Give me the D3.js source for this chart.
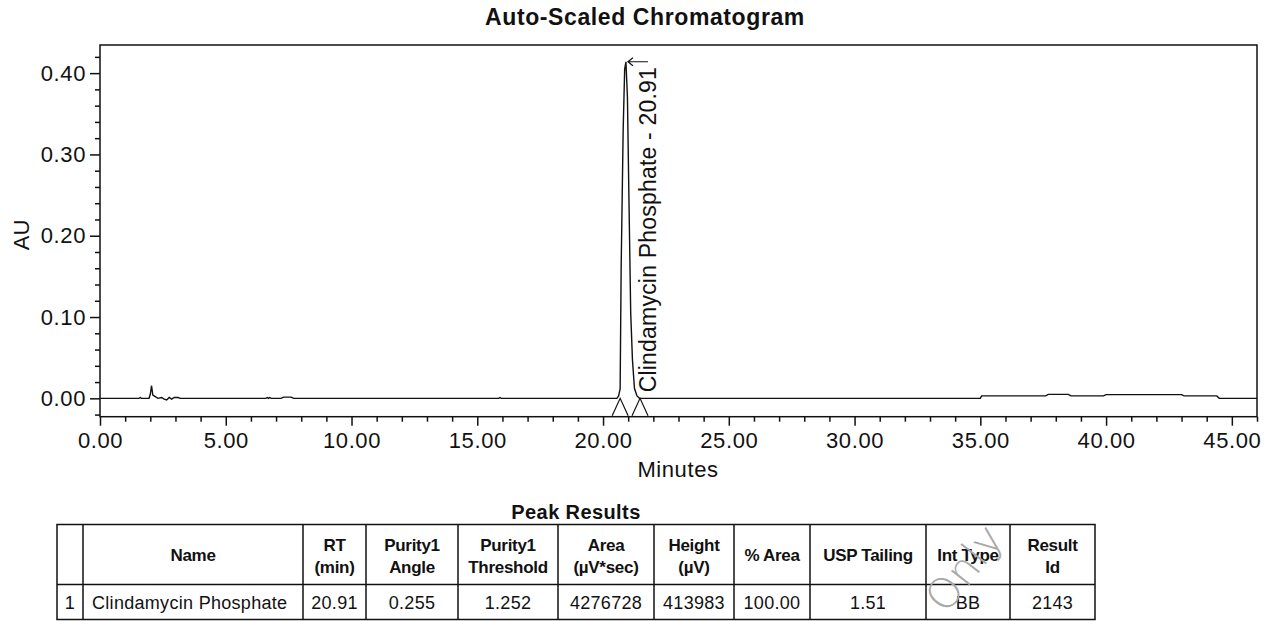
<!DOCTYPE html>
<html lang="en">
<head>
<meta charset="UTF-8">
<title>Auto-Scaled Chromatogram</title>
<script src="https://cdn.jsdelivr.net/npm/d3@7"></script>
<style>
  body { margin: 0; background: #fff; }
  svg { display: block; font-family: "Liberation Sans", Arial, sans-serif; }
</style>
</head>
<body>
<svg class="root"></svg>
<script>
// trace (minutes, AU)
const traceTime = [0, 1.55, 1.6, 1.65, 1.95, 2.0, 2.05, 2.1, 2.2, 2.3, 2.45, 2.55, 2.65, 2.75, 2.85, 2.95, 3.1, 3.2,
  6.6, 6.65, 6.7, 6.75, 6.8, 7.2, 7.3, 7.6, 7.7, 15.85, 15.9, 15.95,
  20.55, 20.62, 20.68, 20.72, 20.8, 20.86, 20.91, 20.97, 21.03, 21.1, 21.17, 21.25, 21.35, 21.45,
  35.0, 35.05, 37.6, 37.7, 38.5, 38.6, 39.9, 40.0, 43.0, 43.1, 44.4, 44.5, 46];
const traceAU = [0, 0, 0.001, 0, 0, 0.005, 0.0155, 0.004, 0.002, 0, 0.001, -0.001, -0.002, 0.001, -0.001, 0.001, 0.001, 0,
  0, 0.001, 0, 0.001, 0, 0, 0.0015, 0.0015, 0, 0, 0.001, 0,
  0, 0.003, 0.012, 0.16, 0.33, 0.405, 0.414, 0.37, 0.245, 0.105, 0.047, 0.012, 0.003, 0,
  0, 0.003, 0.003, 0.0048, 0.0048, 0.003, 0.003, 0.0045, 0.0045, 0.003, 0.003, 0, 0];

const xMajorTicks = [0, 5, 10, 15, 20, 25, 30, 35, 40, 45];
const yMajorTicks = [0, 0.1, 0.2, 0.3, 0.4];

const peakName = "Clindamycin Phosphate";
const peakRT = 20.91;
const peakAU = 0.414;
const integrationMarks = [20.68, 21.47];

// peak results table
const tableHeaders = [[""], ["Name"], ["RT", "(min)"], ["Purity1", "Angle"], ["Purity1", "Threshold"],
  ["Area", "(\u00b5V*sec)"], ["Height", "(\u00b5V)"], ["% Area"], ["USP Tailing"], ["Int Type"], ["Result", "Id"]];
const tableRow = ["1", "Clindamycin Phosphate", "20.91", "0.255", "1.252", "4276728", "413983", "100.00", "1.51", "BB", "2143"];

const W = 1274, H = 621;
const margin = {top: 45, right: 17, bottom: 204.3, left: 100};
const ink = "#111";

const svg = d3.select(".root").attr("width", W).attr("height", H);

const x = d3.scaleLinear().domain([0, 46]).range([margin.left, W - margin.right]);
const y = d3.scaleLinear().domain([-0.0226, 0.4346]).range([H - margin.bottom, margin.top]);

// title
svg.append("text")
  .attr("x", 645).attr("y", 25)
  .attr("text-anchor", "middle")
  .attr("font-size", 23).attr("font-weight", "bold")
  .attr("letter-spacing", 0.6)
  .attr("fill", ink)
  .text("Auto-Scaled Chromatogram");

// minor ticks
const xMinor = d3.range(0, 47).filter(d => d % 5 !== 0);
const yMinor = d3.range(-1, 22).map(d => d * 0.02).filter(d => Math.abs(d * 10 - Math.round(d * 10)) > 1e-6);

svg.append("g")
  .attr("transform", `translate(0,${y.range()[0]})`)
  .call(d3.axisBottom(x).tickValues(xMinor).tickSize(5).tickSizeOuter(0).tickFormat(""))
  .call(g => g.select(".domain").remove())
  .selectAll("line").attr("stroke", ink).attr("stroke-width", 1.5);

svg.append("g")
  .attr("transform", `translate(${margin.left},0)`)
  .call(d3.axisLeft(y).tickValues(yMinor).tickSize(5).tickSizeOuter(0).tickFormat(""))
  .call(g => g.select(".domain").remove())
  .selectAll("line").attr("stroke", ink).attr("stroke-width", 1.5);

// major ticks + labels
const xAxis = svg.append("g")
  .attr("transform", `translate(0,${y.range()[0]})`)
  .call(d3.axisBottom(x).tickValues(xMajorTicks).tickSize(9).tickPadding(7).tickSizeOuter(0).tickFormat(d3.format(".2f")));
xAxis.select(".domain").remove();

const yAxis = svg.append("g")
  .attr("transform", `translate(${margin.left},0)`)
  .call(d3.axisLeft(y).tickValues(yMajorTicks).tickSize(10).tickPadding(4).tickSizeOuter(0).tickFormat(d3.format(".2f")));
yAxis.select(".domain").remove();

[xAxis, yAxis].forEach(g => {
  g.selectAll("line").attr("stroke", ink).attr("stroke-width", 1.5);
  g.selectAll("text")
    .attr("font-family", "'Liberation Sans', Arial, sans-serif")
    .attr("font-size", 22).attr("letter-spacing", 0.6).attr("fill", ink);
});

// frame
svg.append("rect")
  .attr("x", x(0)).attr("y", y(y.domain()[1]))
  .attr("width", x(46) - x(0)).attr("height", y(y.domain()[0]) - y(y.domain()[1]))
  .attr("fill", "none").attr("stroke", ink).attr("stroke-width", 1.5);

// axis titles
svg.append("text")
  .attr("transform", "translate(29,235) rotate(-90)")
  .attr("text-anchor", "middle")
  .attr("font-size", 22).attr("fill", ink)
  .text("AU");

svg.append("text")
  .attr("x", 678).attr("y", 477)
  .attr("text-anchor", "middle")
  .attr("font-size", 22).attr("letter-spacing", 0.6).attr("fill", ink)
  .text("Minutes");

// trace
const trace = traceTime.map((t, i) => [t, traceAU[i]]);
svg.append("path")
  .datum(trace)
  .attr("fill", "none")
  .attr("stroke", ink)
  .attr("stroke-width", 1.4)
  .attr("d", d3.line().x(d => x(d[0])).y(d => y(d[1])));

// integration start/end marks
svg.append("g").selectAll("path")
  .data(integrationMarks)
  .join("path")
  .attr("fill", "none").attr("stroke", ink).attr("stroke-width", 1.2)
  .attr("d", d => `M${x(d) - 8},${y.range()[0] - 1}L${x(d)},${y(0)}L${x(d) + 8},${y.range()[0] - 1}`);

// peak label with arrow
const ax = x(peakRT), ay = y(peakAU);
svg.append("path")
  .attr("fill", "none").attr("stroke", ink).attr("stroke-width", 1.2)
  .attr("d", `M${ax + 2},${ay}L${ax + 22},${ay}M${ax + 7},${ay - 4}L${ax + 2},${ay}L${ax + 7},${ay + 4}`);

svg.append("text")
  .attr("transform", `translate(${ax + 30},${y(0) - 6}) rotate(-90)`)
  .attr("font-size", 23).attr("letter-spacing", 0.2).attr("fill", ink)
  .text(`${peakName} - ${peakRT.toFixed(2)}`);

// Peak Results table
svg.append("text")
  .attr("x", 576).attr("y", 519)
  .attr("text-anchor", "middle")
  .attr("font-size", 20).attr("font-weight", "bold").attr("letter-spacing", 0.4)
  .attr("fill", ink)
  .text("Peak Results");

const colEdges = [57, 83, 303, 366, 458, 558, 654, 734, 810, 926, 1010, 1095];
const rowEdges = [524.5, 584.5, 619.5];

const table = svg.append("g");
table.append("rect")
  .attr("x", colEdges[0]).attr("y", rowEdges[0])
  .attr("width", colEdges[colEdges.length - 1] - colEdges[0])
  .attr("height", rowEdges[2] - rowEdges[0])
  .attr("fill", "none").attr("stroke", ink).attr("stroke-width", 1.5);
table.append("line")
  .attr("x1", colEdges[0]).attr("x2", colEdges[colEdges.length - 1])
  .attr("y1", rowEdges[1]).attr("y2", rowEdges[1])
  .attr("stroke", ink).attr("stroke-width", 1.5);
table.selectAll(".vline")
  .data(colEdges.slice(1, -1))
  .join("line")
  .attr("class", "vline")
  .attr("x1", d => d).attr("x2", d => d)
  .attr("y1", rowEdges[0]).attr("y2", rowEdges[2])
  .attr("stroke", ink).attr("stroke-width", 1.5);

tableHeaders.forEach((lines, i) => {
  const cx = (colEdges[i] + colEdges[i + 1]) / 2;
  const base = lines.length === 1 ? [561] : [551, 573];
  lines.forEach((s, j) => {
    table.append("text")
      .attr("x", cx).attr("y", base[j])
      .attr("text-anchor", "middle")
      .attr("font-size", 17).attr("font-weight", "bold").attr("letter-spacing", -0.3)
      .attr("fill", ink)
      .text(s);
  });
});

tableRow.forEach((s, i) => {
  const cx = (colEdges[i] + colEdges[i + 1]) / 2;
  table.append("text")
    .attr("x", i === 1 ? colEdges[i] + 9 : cx).attr("y", 609)
    .attr("text-anchor", i === 1 ? "start" : "middle")
    .attr("font-size", 18).attr("letter-spacing", 0.3)
    .attr("fill", ink)
    .text(s);
});

// watermark
svg.append("text")
  .attr("transform", "translate(964,568) rotate(-52)")
  .attr("text-anchor", "middle")
  .attr("dy", "0.35em")
  .attr("font-family", "'DejaVu Sans', sans-serif")
  .attr("font-weight", 200)
  .attr("font-size", 42)
  .attr("fill", "#a8a8a8")
  .text("Only");
</script>
</body>
</html>
